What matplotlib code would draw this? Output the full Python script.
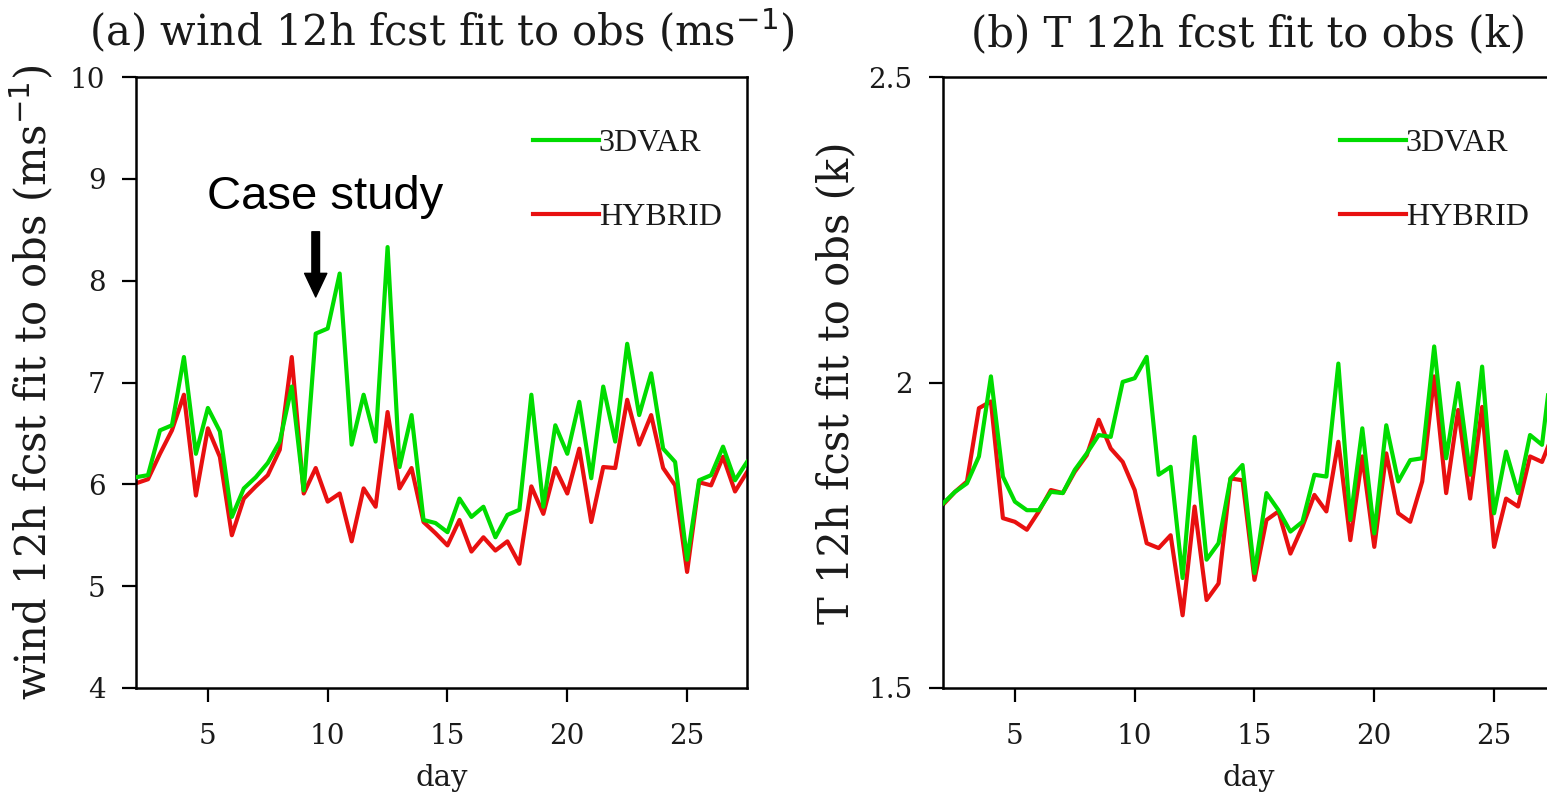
import numpy as np
import matplotlib
matplotlib.use('Agg')
import matplotlib.pyplot as plt

# 12-hourly cycles, day 2 to day 27.5
days = np.arange(2, 27.51, 0.5)

wind_3dvar = [6.07, 6.09, 6.53, 6.58, 7.25, 6.30, 6.75, 6.52, 5.68, 5.96,
              6.07, 6.21, 6.42, 6.96, 5.94, 7.48, 7.53, 8.07, 6.39, 6.88,
              6.42, 8.33, 6.17, 6.68, 5.65, 5.62, 5.53, 5.86, 5.68, 5.78,
              5.48, 5.70, 5.75, 6.88, 5.78, 6.58, 6.30, 6.81, 6.06, 6.96,
              6.42, 7.38, 6.68, 7.09, 6.35, 6.22, 5.26, 6.04, 6.09, 6.37,
              6.04, 6.22]
wind_hybrid = [6.01, 6.05, 6.30, 6.53, 6.88, 5.89, 6.55, 6.27, 5.50, 5.86,
               5.98, 6.09, 6.34, 7.25, 5.91, 6.16, 5.83, 5.91, 5.44, 5.96,
               5.78, 6.71, 5.96, 6.16, 5.63, 5.52, 5.40, 5.65, 5.34, 5.48,
               5.35, 5.44, 5.22, 5.98, 5.71, 6.16, 5.91, 6.35, 5.63, 6.17,
               6.16, 6.83, 6.39, 6.68, 6.16, 5.99, 5.14, 6.02, 5.99, 6.27,
               5.93, 6.12]

t_3dvar = [1.802, 1.821, 1.835, 1.879, 2.010, 1.846, 1.805, 1.791, 1.791, 1.821,
           1.819, 1.857, 1.884, 1.914, 1.911, 2.001, 2.007, 2.042, 1.849, 1.862,
           1.680, 1.911, 1.710, 1.737, 1.843, 1.865, 1.688, 1.819, 1.791, 1.756,
           1.772, 1.849, 1.846, 2.031, 1.775, 1.925, 1.753, 1.930, 1.838, 1.873,
           1.876, 2.059, 1.876, 1.999, 1.849, 2.026, 1.786, 1.887, 1.819, 1.914,
           1.898, 2.060]
t_hybrid = [1.800, 1.821, 1.838, 1.958, 1.969, 1.778, 1.772, 1.759, 1.789, 1.824,
            1.819, 1.854, 1.881, 1.939, 1.892, 1.870, 1.824, 1.737, 1.729, 1.750,
            1.619, 1.797, 1.644, 1.671, 1.843, 1.840, 1.677, 1.775, 1.789, 1.720,
            1.764, 1.816, 1.789, 1.903, 1.742, 1.879, 1.731, 1.884, 1.786, 1.772,
            1.838, 2.010, 1.819, 1.955, 1.810, 1.960, 1.731, 1.810, 1.797, 1.879,
            1.870, 1.920]

GREEN = '#00dc00'
RED = '#e81010'
INK = '#1a1a1a'
SERIF = 'DejaVu Serif'

fig = plt.figure(figsize=(15.47, 7.99), dpi=100)
ax1 = fig.add_axes([136 / 1547, 1 - 688 / 799, 611 / 1547, 611 / 799])
ax2 = fig.add_axes([943 / 1547, 1 - 688 / 799, 611 / 1547, 611 / 799])


def style(ax, title, ylabel, ylim, yticks, yticklabels):
    ax.set_xlim(2, 27.5)
    ax.set_ylim(*ylim)
    ax.set_xticks([5, 10, 15, 20, 25])
    ax.set_yticks(yticks)
    ax.set_yticklabels(yticklabels)
    ax.tick_params(direction='out', length=10, width=1.6, labelsize=20,
                   labelcolor=INK)
    ax.tick_params(axis='y', pad=12)
    ax.tick_params(axis='x', pad=15)
    for lab in ax.get_xticklabels() + ax.get_yticklabels():
        lab.set_family(SERIF)
    for s in ax.spines.values():
        s.set_linewidth(1.8)
    ax.set_title(title, family=SERIF, fontsize=30, pad=22, color=INK)
    ax.set_xlabel('day', family=SERIF, fontsize=21, color=INK)
    ax.set_ylabel(ylabel, family=SERIF, fontsize=30, color=INK)
    ax.xaxis.set_label_coords(0.5, -0.125)
    # legend: 3DVAR first, HYBRID second
    h, l = ax.get_legend_handles_labels()
    leg = ax.legend(h[::-1], l[::-1], loc='upper left',
                    bbox_to_anchor=(0.650, 0.915), borderaxespad=0,
                    frameon=False, handlelength=2.05, handletextpad=0.0,
                    labelspacing=1.4, borderpad=0,
                    prop={'family': 'Liberation Serif', 'size': 23})
    for t in leg.get_texts():
        t.set_color(INK)


ax1.plot(days, wind_hybrid, color=RED, lw=3, zorder=2, label='HYBRID')
ax1.plot(days, wind_3dvar, color=GREEN, lw=3, zorder=3, label='3DVAR')
style(ax1, r'(a) wind 12h fcst fit to obs (ms$^{-1}$)',
      r'wind 12h fcst fit to obs (ms$^{-1}$)', (4, 10),
      [4, 5, 6, 7, 8, 9, 10], ['4', '5', '6', '7', '8', '9', '10'])
ax1.yaxis.set_label_coords(-0.13, 0.5)

ax2.plot(days, t_hybrid, color=RED, lw=3, zorder=2, label='HYBRID')
ax2.plot(days, t_3dvar, color=GREEN, lw=3, zorder=3, label='3DVAR')
style(ax2, '(b) T 12h fcst fit to obs (k)', 'T 12h fcst fit to obs (k)',
      (1.5, 2.5), [1.5, 2.0, 2.5], ['1.5', '2', '2.5'])
ax2.yaxis.set_label_coords(-0.14, 0.5)

# "Case study" annotation
ax1.text(9.9, 8.82, 'Case study', family='Liberation Sans', fontsize=34,
         ha='center', va='center', color='black')
ax1.annotate('', xy=(9.5, 7.84), xytext=(9.5, 8.48),
             arrowprops=dict(facecolor='black', edgecolor='black', width=5.5,
                             headwidth=16, headlength=17, shrink=0))

fig.savefig('out.png', dpi=100)
